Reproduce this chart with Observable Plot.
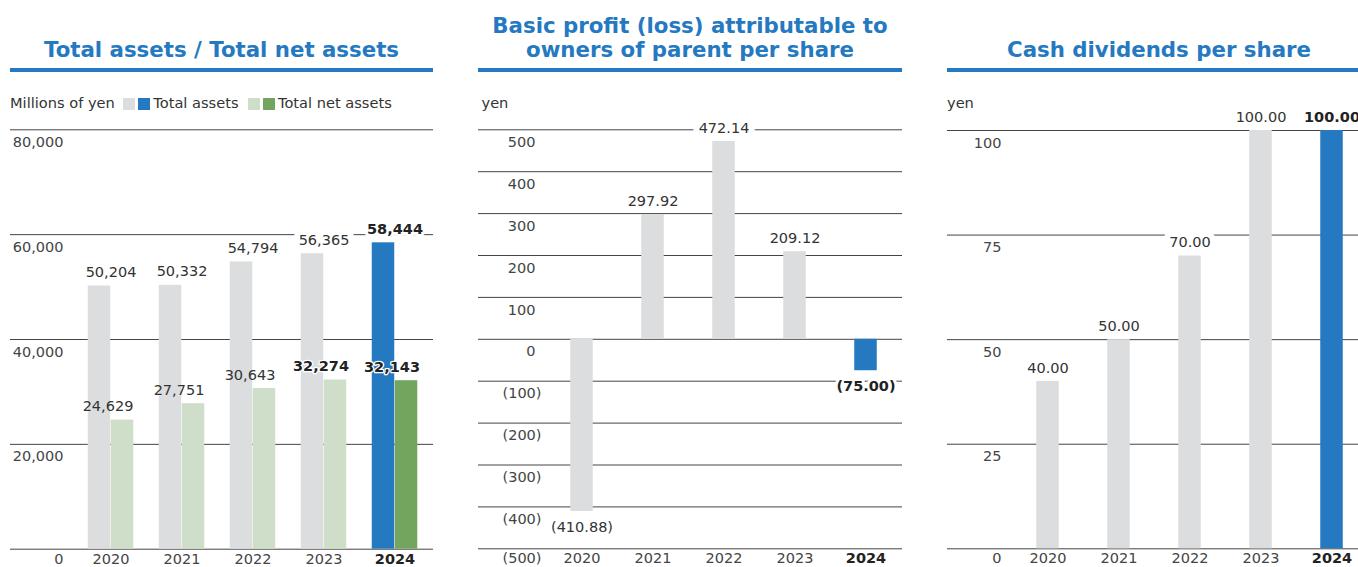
<!DOCTYPE html>
<html>
<head>
<meta charset="utf-8">
<script src="https://cdn.jsdelivr.net/npm/d3@7"></script>
<script src="https://cdn.jsdelivr.net/npm/@observablehq/plot@0.6"></script>
<style>
  body { margin: 0; background: #fff; font-family: "DejaVu Sans", Verdana, sans-serif; }
  #root { position: relative; width: 1358px; height: 567px; overflow: hidden; background: #fff; }
  .panel { position: absolute; top: 0; height: 567px; }
  .title { position: absolute; left: 0; width: 100%; text-align: center; color: #2479c1; font-weight: bold; font-size: 21.3px; line-height: 23.5px; white-space: nowrap; }
  .rule { position: absolute; left: 0; width: 100%; top: 68px; height: 3.5px; background: #2479c1; }
  .unit { position: absolute; top: 95px; font-size: 14.6px; line-height: 16px; color: #333; white-space: nowrap; }
  .sw { display: inline-block; width: 12px; height: 12px; vertical-align: -2px; }
  .plot { position: absolute; left: 0; top: 110px; }
</style>
</head>
<body>
<div id="root">
  <div class="panel" id="p1" style="left:10px;width:423px;">
    <div class="title" style="top:37.6px;">Total assets / Total net assets</div>
    <div class="rule"></div>
    <div class="unit" style="left:0px;">Millions of yen<span class="sw" style="background:#dcdddf;margin-left:8px;"></span><span class="sw" style="background:#2479c1;margin-left:3px;"></span><span style="margin-left:3.5px;">Total assets</span><span class="sw" style="background:#cfdec8;margin-left:9px;"></span><span class="sw" style="background:#73a55f;margin-left:3px;"></span><span style="margin-left:3.5px;">Total net assets</span></div>
    <div class="plot" id="c1"></div>
  </div>
  <div class="panel" id="p2" style="left:478px;width:424px;">
    <div class="title" style="top:14px;">Basic profit (loss) attributable to<br>owners of parent per share</div>
    <div class="rule"></div>
    <div class="unit" style="left:3.5px;">yen</div>
    <div class="plot" id="c2"></div>
  </div>
  <div class="panel" id="p3" style="left:947px;width:424px;">
    <div class="title" style="top:37.6px;">Cash dividends per share</div>
    <div class="rule"></div>
    <div class="unit" style="left:0px;">yen</div>
    <div class="plot" id="c3"></div>
  </div>
</div>
<script>
// ---------------- data ----------------
const years = ["2020", "2021", "2022", "2023", "2024"];
const highlightYear = "2024";
const totalAssets = [50204, 50332, 54794, 56365, 58444];
const totalNetAssets = [24629, 27751, 30643, 32274, 32143];
const boldNetAssetYears = ["2023", "2024"];
const epsValues = [-410.88, 297.92, 472.14, 209.12, -75.00];
const dividendValues = [40.00, 50.00, 70.00, 100.00, 100.00];
const assetTicks = [0, 20000, 40000, 60000, 80000];
const epsTicks = [-500, -400, -300, -200, -100, 0, 100, 200, 300, 400, 500];
const dividendTicks = [0, 25, 50, 75, 100];

// ---------------- style ----------------
const GRAY = "#dcdddf", BLUE = "#2479c1", LGREEN = "#cfdec8", GREEN = "#73a55f";
const GRID = "#444", TICK = "#444", LABEL = "#333", BOLDLABEL = "#222";
const FS = 14.5;
const H = 457;
const BOTTOM_DY = 10;

function base(width, xRange, yDomain, yRange) {
  return {
    width, height: H,
    marginTop: 0, marginRight: 0, marginBottom: 0, marginLeft: 0,
    x: {type: "band", domain: years, range: xRange, padding: 0, axis: null},
    y: {domain: yDomain, range: yRange, axis: null},
    color: {type: "identity"},
    style: {fontFamily: '"DejaVu Sans", Verdana, sans-serif', background: "transparent", overflow: "visible"}
  };
}

function labelLayers(values, texts, isBold, dx) {
  const idx = d3.range(values.length);
  const halos = [], labels = [];
  for (const b of [false, true]) for (const neg of [false, true]) {
    const o = {
      filter: i => !!isBold(i) === b && (values[i] < 0) === neg,
      x: i => years[i], y: i => values[i], text: i => texts[i],
      dx: dx || 0, dy: neg ? 15.5 : -13.5,
      fontSize: FS, fontWeight: b ? "bold" : "normal"
    };
    halos.push(Plot.text(idx, {...o, fill: "white", stroke: "white", strokeWidth: b ? 6 : 12, strokeLinejoin: "round"}));
    labels.push(Plot.text(idx, {...o, fill: b ? BOLDLABEL : LABEL,
      ...(b ? {stroke: "white", strokeWidth: 2.5, strokeLinejoin: "round"} : {})}));
  }
  return {halos, labels};
}

function yearLabels(yBase) {
  return [
    Plot.text(years, {filter: d => d !== highlightYear, x: d => d, y: d => yBase, dy: BOTTOM_DY, text: d => d, fontSize: FS, fill: TICK}),
    Plot.text(years, {filter: d => d === highlightYear, x: d => d, y: d => yBase, dy: BOTTOM_DY, text: d => d, fontSize: FS, fontWeight: "bold", fill: BOLDLABEL})
  ];
}

// tick labels sit just under their grid line; the lowest one is nudged so it stays inside the picture
function tickLabels(ticks, fmt, dx, filter) {
  const lo = d3.min(ticks);
  return [
    Plot.text(ticks, {filter: d => filter(d) && d !== lo, y: d => d, text: fmt, frameAnchor: "left", dx, dy: 12.5, textAnchor: "end", fontSize: FS, fill: TICK}),
    Plot.text(ticks, {filter: d => filter(d) && d === lo, y: d => d, text: fmt, frameAnchor: "left", dx, dy: BOTTOM_DY, textAnchor: "end", fontSize: FS, fill: TICK})
  ];
}

const idx = d3.range(years.length);

// ---------------- panel 1 ----------------
{
  const fmt = d3.format(",");
  const a = labelLayers(totalAssets, totalAssets.map(fmt), i => years[i] === highlightYear, 0);
  const n = labelLayers(totalNetAssets, totalNetAssets.map(fmt), i => boldNetAssetYears.includes(years[i]), -3);
  const step = 71.5, bw = 23;
  const chart = Plot.plot({
    ...base(423, [63.25, 63.25 + 5 * step], [0, 80000], [438.7, 19.3]),
    marks: [
      Plot.ruleY(assetTicks, {stroke: GRID, strokeWidth: 1}),
      ...a.halos, ...n.halos,
      Plot.barY(idx, {x: i => years[i], y: i => totalAssets[i], fill: i => years[i] === highlightYear ? BLUE : GRAY,
        insetLeft: step / 2 - bw, insetRight: step / 2}),
      Plot.barY(idx, {x: i => years[i], y: i => totalNetAssets[i], fill: i => years[i] === highlightYear ? GREEN : LGREEN,
        insetLeft: step / 2, insetRight: step / 2 - bw}),
      ...a.labels, ...n.labels,
      ...tickLabels(assetTicks, d => fmt(d), 53, d => true),
      ...yearLabels(0)
    ]
  });
  document.getElementById("c1").append(chart);
}

// ---------------- panel 2 ----------------
{
  const fmtV = d => d < 0 ? `(${(-d).toFixed(2)})` : d.toFixed(2);
  const fmtT = d => d < 0 ? `(${-d})` : `${d}`;
  const e = labelLayers(epsValues, epsValues.map(fmtV), i => years[i] === highlightYear, 0);
  const step = 71.5, bw = 23;
  const chart = Plot.plot({
    ...base(424, [66.75, 66.75 + 5 * step], [-500, 500], [438.3, 19.3]),
    marks: [
      Plot.ruleY(epsTicks, {stroke: GRID, strokeWidth: 1}),
      ...e.halos,
      Plot.barY(idx, {x: i => years[i], y: i => epsValues[i], fill: i => years[i] === highlightYear ? BLUE : GRAY,
        insetLeft: (step - bw) / 2, insetRight: (step - bw) / 2}),
      ...e.labels,
      ...tickLabels(epsTicks, fmtT, 57, d => d >= 0),
      ...tickLabels(epsTicks, fmtT, 63, d => d < 0),
      ...yearLabels(-500)
    ]
  });
  document.getElementById("c2").append(chart);
}

// ---------------- panel 3 ----------------
{
  const d = labelLayers(dividendValues, dividendValues.map(v => v.toFixed(2)), i => years[i] === highlightYear, 0);
  const step = 71.5, bw = 23;
  const chart = Plot.plot({
    ...base(424, [63.75, 63.75 + 5 * step], [0, 100], [438.3, 20]),
    marks: [
      Plot.ruleY(dividendTicks, {stroke: GRID, strokeWidth: 1}),
      ...d.halos,
      Plot.barY(idx, {x: i => years[i], y: i => dividendValues[i], fill: i => years[i] === highlightYear ? BLUE : GRAY,
        insetLeft: (step - bw) / 2, insetRight: (step - bw) / 2}),
      ...d.labels,
      ...tickLabels(dividendTicks, v => `${v}`, 54, v => true),
      ...yearLabels(0)
    ]
  });
  document.getElementById("c3").append(chart);
}
</script>
</body>
</html>
